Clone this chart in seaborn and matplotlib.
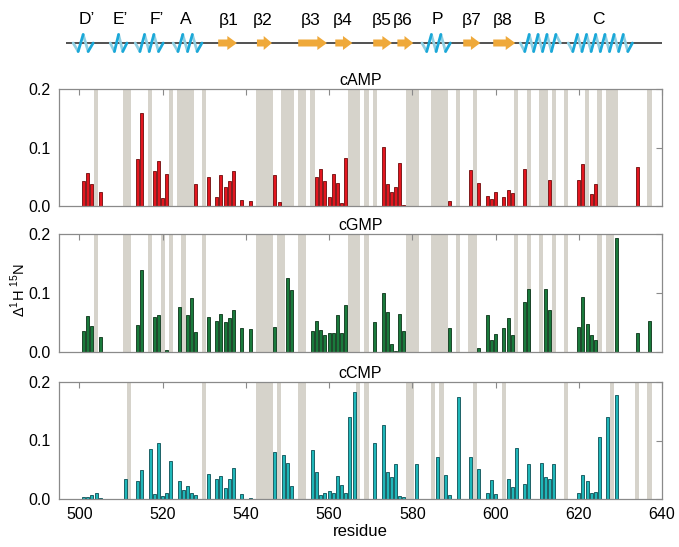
import numpy as np
import pandas as pd
import matplotlib
matplotlib.use("Agg")
import matplotlib.pyplot as plt
from matplotlib.patches import Polygon
import seaborn as sns

# ---------------- data ----------------
camp_res = [501,502,503,505,514,515,518,519,520,521,528,531,533,534,535,536,537,539,541,547,548,
            557,558,559,560,561,562,563,564,573,574,575,576,577,578,589,594,596,598,599,600,602,603,604,
            607,613,620,621,623,624,634]
camp_val = [0.043,0.057,0.037,0.024,0.080,0.159,0.059,0.077,0.014,0.054,0.037,0.049,0.015,0.053,0.033,
            0.043,0.060,0.010,0.008,0.053,0.006,0.050,0.063,0.043,0.016,0.054,0.039,0.005,0.082,0.101,
            0.037,0.024,0.032,0.074,0.001,0.009,0.062,0.040,0.017,0.012,0.024,0.015,0.028,0.023,0.063,
            0.045,0.044,0.071,0.020,0.038,0.067]
camp_gray = [504,511,512,517,522,524,525,526,527,530,543,544,545,546,549,550,551,553,554,556,565,566,567,
             569,571,579,580,581,585,586,587,588,591,595,605,608,611,612,614,617,622,625,627,628,629,637]

cgmp_res = [501,502,503,505,514,515,518,519,521,524,526,527,528,531,533,534,535,536,537,539,541,547,550,551,
            556,557,558,559,560,561,562,563,564,571,573,574,575,576,577,578,589,596,598,599,600,602,603,604,
            607,608,612,613,620,621,622,623,624,629,634,637]
cgmp_val = [0.036,0.061,0.044,0.025,0.045,0.139,0.060,0.063,0.003,0.077,0.062,0.091,0.034,0.060,0.052,
            0.064,0.051,0.058,0.072,0.040,0.039,0.043,0.125,0.105,0.035,0.053,0.037,0.029,0.032,0.033,
            0.063,0.033,0.079,0.051,0.100,0.068,0.014,0.001,0.064,0.036,0.041,0.007,0.063,0.021,0.030,
            0.041,0.057,0.029,0.084,0.107,0.106,0.071,0.043,0.093,0.048,0.029,0.020,0.194,0.033,0.052]
cgmp_gray = [504,511,512,517,520,522,525,530,543,544,545,546,548,549,553,554,565,566,567,569,579,580,581,
             585,586,587,588,591,594,595,605,608,611,614,617,625,627,628]

ccmp_res = [501,502,503,504,505,511,514,515,517,518,519,520,521,522,524,525,526,527,528,531,533,534,535,536,
            537,539,541,547,549,550,551,556,557,558,559,560,561,562,563,564,565,566,571,573,574,575,576,577,
            578,581,586,588,589,591,594,596,598,599,600,603,604,605,607,608,611,612,613,614,620,621,622,623,
            624,625,627,629]
ccmp_val = [0.003,0.003,0.006,0.011,0.002,0.034,0.031,0.049,0.086,0.009,0.096,0.005,0.011,0.065,0.030,
            0.015,0.022,0.011,0.006,0.043,0.035,0.040,0.019,0.035,0.053,0.008,0.001,0.080,0.075,0.061,
            0.022,0.084,0.046,0.007,0.010,0.013,0.011,0.040,0.024,0.010,0.141,0.183,0.096,0.126,0.046,
            0.038,0.059,0.005,0.003,0.059,0.072,0.041,0.007,0.175,0.071,0.051,0.011,0.032,0.008,0.035,
            0.021,0.088,0.026,0.059,0.061,0.038,0.035,0.059,0.011,0.041,0.031,0.011,0.012,0.106,0.141,0.178]
ccmp_gray = [512,530,543,544,545,546,548,553,554,567,569,579,580,585,587,595,602,617,628,634,637]

panel_titles = ["cAMP", "cGMP", "cCMP"]
x_ticks = [500, 520, 540, 560, 580, 600, 620, 640]
y_ticks = [0.0, 0.1, 0.2]
y_ticklabels = ["0.0", "0.1", "0.2"]

# secondary structure
helix_names = ["D’", "E’", "F’", "A", "P", "B", "C"]
helix_start = [498.5, 507.4, 513.4, 522.5, 582.2, 605.8, 617.3]
helix_end = [503.3, 511.4, 520.1, 529.4, 589.0, 615.4, 632.7]
helix_label_x = [501.8, 509.8, 518.6, 525.6, 585.9, 610.3, 624.5]
strand_names = ["β1", "β2", "β3", "β4", "β5", "β6", "β7", "β8"]
strand_start = [533.3, 542.6, 552.5, 561.4, 570.5, 576.3, 592.1, 599.3]
strand_end = [537.8, 546.2, 559.4, 565.5, 575.0, 580.1, 596.2, 604.6]
strand_label_x = [535.7, 543.9, 555.4, 563.1, 572.6, 577.6, 594.2, 601.6]
backbone = [496.8, 639.8]

# ---------------- style ----------------
sns.set_theme(style="white")
plt.rcParams["font.family"] = ["Liberation Sans", "DejaVu Sans"]
plt.rcParams["mathtext.fontset"] = "custom"
plt.rcParams["mathtext.rm"] = "Liberation Sans"
plt.rcParams["text.color"] = "black"
plt.rcParams["axes.labelcolor"] = "black"
plt.rcParams["xtick.labelcolor"] = "black"
plt.rcParams["ytick.labelcolor"] = "black"

W, H = 679, 547
fig = plt.figure(figsize=(W / 100, H / 100), dpi=100)

def fx(px):
    return px / W

def fy(px):
    return 1 - px / H

left, right = 59, 662
xlim = (495.1, 639.8)

panels = [
    (camp_res, camp_val, camp_gray, "#e3161f", "#6e0b0b", 89, 206),
    (cgmp_res, cgmp_val, cgmp_gray, "#1a7a3c", "#0a3318", 234, 352),
    (ccmp_res, ccmp_val, ccmp_gray, "#1fb7b9", "#0b4f55", 382, 499),
]

spine_col = "#8a8a8a"
gray_col = "#d6d3cb"

for i, (res, val, gray, fc, ec, top, bot) in enumerate(panels):
    ax = fig.add_axes([fx(left), fy(bot), fx(right - left), (bot - top) / H])
    for g in gray:
        ax.axvspan(g - 0.5, g + 0.5, color=gray_col, lw=0, zorder=0)
    df = pd.DataFrame({"residue": res, "shift": val})
    sns.barplot(data=df, x="residue", y="shift", native_scale=True, width=0.72,
                color=fc, saturation=1, edgecolor=ec, linewidth=0.6,
                errorbar=None, ax=ax, zorder=2)
    ax.set_xlim(*xlim)
    ax.set_ylim(0, 0.2)
    ax.set_xticks(x_ticks)
    ax.set_yticks(y_ticks)
    ax.set_yticklabels(y_ticklabels, fontsize=11.5)
    ax.set_xlabel("")
    ax.set_ylabel("")
    ax.tick_params(axis="y", direction="out", length=4, width=0.8, color=spine_col, pad=2,
                   labelcolor="black")
    ax.tick_params(axis="x", length=0, pad=6, labelsize=11.5, labelcolor="black")
    if i < 2:
        ax.set_xticklabels([])
    else:
        ax.set_xticklabels([str(t) for t in x_ticks])
    for s in ax.spines.values():
        s.set_color(spine_col)
        s.set_linewidth(0.9)
    # inward ticks on top and right
    sx = ax.secondary_xaxis("top")
    sx.set_xticks(x_ticks)
    sx.tick_params(direction="in", length=4, width=0.8, color=spine_col, labeltop=False)
    sx.spines["top"].set_visible(False)
    sy = ax.secondary_yaxis("right")
    sy.set_yticks(y_ticks)
    sy.tick_params(direction="in", length=4, width=0.8, color=spine_col, labelright=False)
    sy.spines["right"].set_visible(False)
    ax.set_title(panel_titles[i], fontsize=11.5, pad=3, color="black")

fig.text(fx(18), fy(290), "Δ$^{1}$H $^{15}$N", rotation=90, ha="center", va="center",
         fontsize=10.5, color="black")
fig.text(fx((left + right) / 2), fy(531), "residue", ha="center", va="center",
         fontsize=12, color="black")

# ---------------- secondary structure track ----------------
tax = fig.add_axes([fx(left), fy(60), fx(right - left), 60 / H])
tax.set_xlim(*xlim)
tax.set_ylim(60, 0)
tax.axis("off")
yl = 43
tax.plot(backbone, [yl, yl], color="#333333", lw=1.2, zorder=1, solid_capstyle="butt")

for s, e, lx, name in zip(helix_start, helix_end, helix_label_x, helix_names):
    n = max(2, int(round((e - s) / 1.1)))
    xs = np.linspace(s, e, n + 1)
    ys = [yl] + [yl + (8.5 if k % 2 else -8.5) for k in range(1, n)] + [yl]
    for k in range(n):
        up = ys[k + 1] < ys[k]
        tax.plot(xs[k:k + 2], ys[k:k + 2], color="#1aa8d8" if up else "#8ecfe3",
                 lw=2.0, zorder=3 if up else 2, solid_capstyle="round")
    tax.text(lx, 20, name, ha="center", va="center", fontsize=12.5, color="black")

for s, e, lx, name in zip(strand_start, strand_end, strand_label_x, strand_names):
    hl = min(2.3, 0.55 * (e - s))
    pts = [(s, yl - 3.5), (e - hl, yl - 3.5), (e - hl, yl - 7), (e, yl),
           (e - hl, yl + 7), (e - hl, yl + 3.5), (s, yl + 3.5)]
    tax.add_patch(Polygon(pts, closed=True, facecolor="#efa93a", edgecolor="none", zorder=3))
    tax.text(lx, 20, name, ha="center", va="center", fontsize=12.5, color="black")

fig.savefig("out.png", dpi=100)
